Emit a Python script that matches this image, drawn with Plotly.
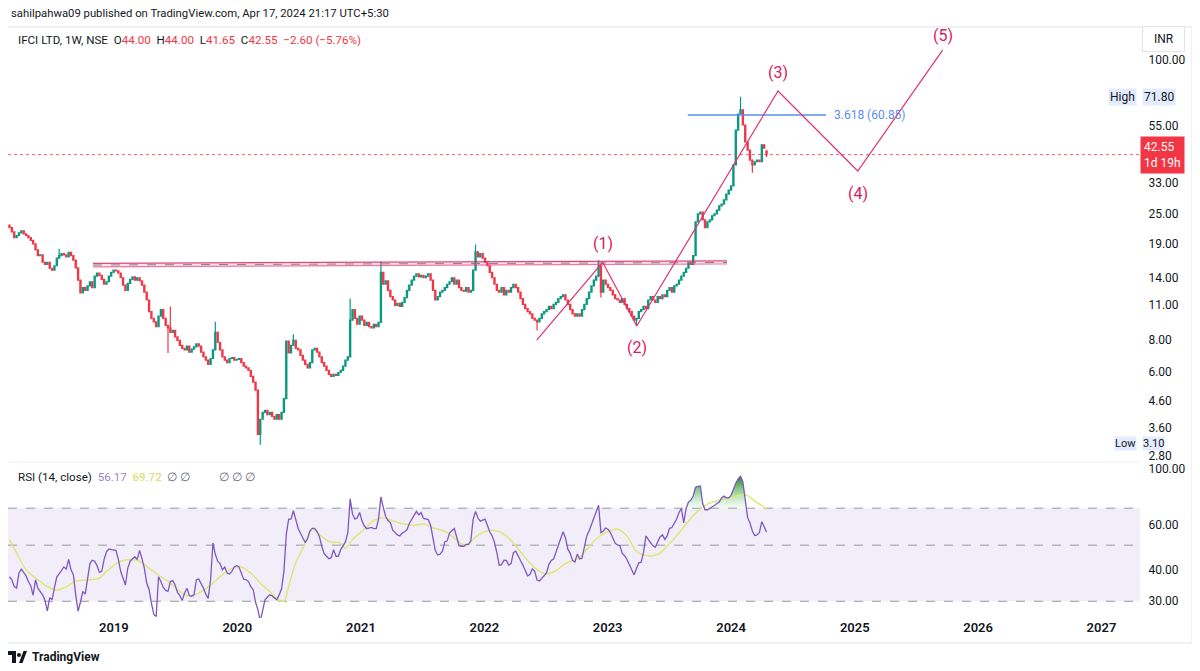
import numpy as np
import pandas as pd
import plotly.graph_objects as go

# IFCI LTD weekly candles (NSE), first bar = week of 2018-02-26, last = week of 2024-04-15
first_week = "2018-02-26"
first_open = 22.5
last_open = 44.00
close = [
    22.0, 21.2, 20.1, 20.5, 21.0, 21.4, 20.8, 20.5, 20.1, 19.6,
    19.0, 18.0, 17.1, 17.2, 16.1, 15.8, 16.1, 15.25, 15.0, 15.6,
    16.7, 17.1, 17.4, 17.2, 16.9, 17.6, 17.1, 16.4, 15.3, 13.7,
    12.2, 12.8, 12.5, 13.0, 13.5, 12.8, 14.2, 14.6, 14.3, 13.8,
    13.2, 13.5, 14.2, 14.7, 15.0, 14.9, 14.6, 14.0, 13.1, 12.5,
    13.3, 13.8, 14.1, 13.7, 14.0, 13.6, 13.1, 12.3, 11.45, 10.3,
    9.7, 9.4, 9.0, 9.9, 10.5, 9.7, 9.1, 8.9, 8.55, 8.7,
    8.2, 7.95, 7.6, 7.4, 7.3, 7.55, 7.15, 7.35, 7.5, 7.7,
    7.55, 7.15, 6.85, 6.65, 6.4, 6.75, 7.3, 8.55, 7.8, 7.3,
    6.85, 6.65, 6.5, 6.75, 6.8, 6.65, 6.7, 6.75, 6.5, 6.3,
    6.2, 6.07, 5.75, 5.45, 5.07, 3.40, 3.9, 4.15, 4.23, 4.07,
    4.15, 4.0, 3.9, 4.07, 3.9, 4.15, 4.7, 7.9, 7.1, 7.6,
    7.95, 7.4, 7.3, 6.95, 6.65, 6.4, 6.2, 6.5, 7.3, 7.4,
    7.15, 6.85, 6.5, 6.3, 6.07, 5.85, 5.75, 5.85, 5.8, 5.95,
    6.07, 6.3, 6.65, 6.85, 9.55, 10.5, 9.7, 9.2, 9.9, 9.55,
    9.1, 9.35, 9.0, 8.9, 9.2, 9.0, 9.35, 14.7, 13.2, 13.6,
    12.5, 11.8, 11.45, 10.9, 11.1, 10.8, 11.2, 11.7, 12.5, 13.1,
    13.7, 14.2, 14.5, 14.1, 14.3, 14.0, 14.2, 14.5, 13.7, 12.5,
    11.45, 11.8, 12.3, 12.5, 12.8, 13.2, 13.5, 14.0, 13.2, 13.7,
    12.8, 12.5, 12.4, 12.8, 12.3, 12.5, 15.0, 17.7, 16.9, 17.4,
    16.7, 16.1, 15.6, 14.7, 14.0, 13.2, 12.5, 12.3, 12.8, 12.0,
    12.5, 12.3, 12.8, 13.2, 12.8, 12.3, 11.6, 11.0, 10.6, 10.3,
    10.1, 9.7, 9.55, 9.4, 9.7, 10.1, 10.3, 10.5, 10.8, 10.6,
    11.0, 11.2, 11.6, 11.8, 12.0, 11.45, 11.0, 10.5, 10.1, 9.9,
    10.1, 9.9, 10.5, 11.0, 11.6, 12.3, 13.0, 13.7, 14.2, 15.6,
    12.3, 13.7, 13.2, 12.8, 12.5, 12.0, 11.6, 11.45, 11.2, 11.6,
    11.0, 10.6, 10.3, 9.9, 9.55, 9.7, 10.3, 10.5, 10.8, 10.6,
    11.45, 11.8, 11.45, 11.2, 11.8, 11.6, 12.0, 11.8, 12.5, 12.8,
    12.3, 13.0, 13.2, 13.7, 14.2, 14.7, 15.25, 16.1, 15.8, 17.1,
    23.2, 24.9, 25.3, 23.6, 22.0, 23.2, 23.6, 24.5, 24.9, 25.8,
    26.8, 27.2, 28.3, 29.8, 30.9, 32.1, 38.8, 53.1, 61.4, 63.7,
    55.6, 47.7, 44.3, 40.5, 38.8, 39.9, 40.5, 39.9, 46.5, 45.15,
    42.55,
]
# weeks with visible wicks beyond the body
wick_high = {21: 18.2, 68: 10.8, 87: 9.4, 120: 8.4, 144: 11.6, 157: 16.2,
             197: 18.9, 249: 16.4, 309: 71.8, 320: 44.0}
wick_low = {67: 7.1, 106: 3.10, 223: 8.7, 250: 11.7, 265: 9.1, 314: 36.1, 320: 41.65}

# RSI (14, close), one value per week
rsi = [
    37.5, 36.5, 34.3, 33.8, 38.8, 40.2, 39.0, 37.8, 35.9, 34.5,
    31.7, 36.5, 33.8, 32.8, 31.8, 30.2, 27.5, 31.0, 30.4, 34.0,
    37.5, 38.5, 39.8, 41.0, 40.2, 43.9, 40.0, 38.2, 31.8, 27.4,
    29.8, 32.8, 32.0, 36.5, 42.3, 43.6, 43.2, 41.5, 39.0, 39.4,
    43.9, 47.1, 48.3, 48.0, 48.0, 47.7, 43.9, 39.4, 37.0, 34.8,
    40.6, 43.2, 44.2, 45.0, 43.9, 47.7, 44.2, 40.6, 35.4, 33.4,
    29.5, 26.6, 26.1, 37.5, 35.9, 34.0, 33.1, 32.8, 35.9, 36.2,
    34.8, 32.5, 31.6, 30.2, 32.3, 33.8, 31.6, 31.4, 31.9, 36.5,
    36.7, 35.4, 33.8, 32.0, 30.8, 36.5, 51.0, 46.0, 43.2, 42.3,
    40.0, 41.0, 38.8, 38.5, 39.4, 41.0, 41.5, 41.0, 38.8, 36.7,
    36.5, 35.9, 34.3, 33.4, 29.8, 27.8, 25.0, 27.8, 30.4, 31.2,
    31.8, 31.5, 31.0, 30.4, 31.8, 33.6, 39.4, 55.2, 63.4, 63.4,
    68.4, 62.4, 58.3, 55.7, 53.0, 51.2, 53.0, 57.0, 58.3, 58.3,
    56.6, 54.0, 49.5, 46.3, 45.2, 44.2, 44.6, 48.0, 45.2, 45.2,
    48.0, 49.5, 51.5, 56.0, 76.2, 66.3, 63.4, 64.2, 67.3, 62.4,
    59.5, 58.1, 58.3, 58.8, 58.1, 58.1, 63.4, 77.6, 70.5, 64.9,
    62.6, 61.4, 57.3, 56.1, 54.9, 54.4, 55.8, 56.5, 57.5, 60.9,
    63.4, 66.1, 67.9, 65.9, 67.2, 63.8, 63.4, 63.1, 59.9, 53.7,
    47.6, 45.7, 46.1, 47.3, 51.5, 52.0, 55.8, 57.0, 58.2, 54.0,
    49.8, 49.5, 49.5, 50.4, 50.4, 52.0, 63.4, 67.9, 64.0, 62.2,
    62.6, 63.4, 59.9, 56.5, 54.4, 51.2, 46.7, 41.7, 41.9, 43.6,
    43.5, 41.7, 42.3, 46.7, 47.3, 45.0, 43.5, 41.7, 39.4, 37.8,
    38.3, 40.3, 39.4, 36.4, 36.1, 36.9, 37.7, 38.8, 42.0, 43.5,
    44.1, 46.7, 49.3, 53.1, 56.5, 53.4, 48.2, 46.4, 43.5, 42.9,
    46.1, 44.1, 44.4, 49.3, 54.4, 56.9, 60.4, 64.2, 68.3, 71.9,
    56.1, 56.9, 58.4, 57.8, 56.1, 53.1, 50.9, 50.1, 49.8, 46.4,
    45.4, 43.9, 41.9, 39.5, 38.2, 40.3, 42.6, 42.8, 46.8, 54.4,
    52.4, 51.1, 49.7, 49.0, 51.6, 53.9, 54.9, 52.7, 54.4, 58.3,
    58.7, 61.2, 63.4, 67.3, 69.8, 61.2, 69.8, 74.1, 75.3, 78.2,
    84.7, 85.4, 85.7, 73.0, 69.0, 69.0, 69.8, 70.4, 71.7, 73.0,
    74.1, 76.9, 78.1, 76.9, 76.9, 78.7, 83.8, 87.8, 91.5, 93.7,
    88.9, 74.7, 64.2, 61.2, 56.9, 54.6, 54.9, 56.1, 61.9, 59.1,
    56.17,
]
# RSI-based moving average, read at selected weeks
ma_week = [0, 3, 7, 12, 16, 20, 24, 28, 34, 38, 41, 47, 52, 55, 59, 64, 68, 72, 76, 80,
           85, 89, 93, 97, 102, 106, 110, 114, 116, 118, 121, 124, 128, 131, 135, 140, 142, 145, 150, 154,
           158, 164, 171, 175, 179, 185, 189, 193, 197, 202, 206, 210, 214, 219, 223, 227, 231, 235, 240, 244,
           248, 252, 257, 261, 265, 269, 274, 278, 282, 286, 291, 295, 299, 303, 307, 311, 316, 320]
ma_val = [52.6, 46.6, 40.0, 36.5, 34.3, 33.2, 34.3, 36.0, 36.5, 37.0, 39.4, 43.2, 43.9, 43.2, 40.6, 37.5, 35.4, 32.8, 31.4, 32.3,
          34.8, 37.5, 40.0, 41.3, 38.8, 35.4, 32.8, 30.2, 30.0, 34.3, 42.6, 48.6, 57.9, 55.1, 51.7, 50.9, 48.6, 52.6, 57.9, 62.6,
          64.0, 61.5, 60.0, 60.6, 58.6, 56.1, 52.4, 49.7, 53.9, 57.0, 57.0, 54.4, 49.7, 43.5, 40.0, 38.5, 39.6, 42.3, 44.1, 48.0,
          52.9, 56.1, 57.8, 54.4, 47.3, 45.5, 45.9, 49.7, 54.4, 60.6, 68.3, 72.6, 74.7, 76.2, 78.0, 79.2, 73.6, 69.72]

# drawings
wave_dates = ["2022-06-05", "2022-12-17", "2023-03-28", "2024-05-19", "2025-01-10", "2025-09-18"]
wave_prices = [7.97, 16.1, 9.05, 75.6, 36.7, 109.4]
wave_labels = ["", "(1)", "(2)", "(3)", "(4)", "(5)"]
wave_shift = [0, 19, -21, 18, -22, 15]
res_dates = ["2018-10-31", "2023-12-20"]
res_top = [15.95, 16.3]
res_mid = [15.7, 16.07]
res_bot = [15.45, 15.85]
fib_dates = ["2023-08-26", "2024-10-08"]
fib_price = 60.85
last_price = 42.55
high_price = 71.80
low_price = 3.10

price_ticks = [100, 55, 33, 25, 19, 14, 11, 8, 6, 4.6, 3.6, 2.8]
rsi_ticks = [100, 60, 40, 30]

# ---------------------------------------------------------------
n = len(close)
base = pd.Timestamp(first_week)
dates = [base + pd.Timedelta(days=7 * i) for i in range(n)]
opens = [first_open] + close[:-1]
opens[-1] = last_open
highs = [max(opens[i], close[i], wick_high.get(i, 0)) for i in range(n)]
lows = [min(opens[i], close[i], wick_low.get(i, 1e9)) for i in range(n)]
ma_dates = [base + pd.Timedelta(days=7 * w) for w in ma_week]

x_start = base - pd.Timedelta(days=4.4)
x_end = base + pd.Timedelta(days=3345)

# page has an 8px body margin, so the figure is drawn 8px in from the page corner
OFF = 8
W, H = 1192, 663
ML, MR, MT, MB = 0, 60, 20, 53
PW, PH = W - ML - MR, H - MT - MB


def xp(px):
    # page pixel -> paper
    return (px - OFF - ML) / PW


def yp(py):
    return (H - MB - (py - OFF)) / PH


UP, DOWN = "#089981", "#F23645"
PINK = "#d81b60"
BLUE = "#5b8def"
PURPLE = "#7E57C2"
MAC = "#dfe67a"
TXT = "#131722"
FONT = "Roboto, 'Open Sans', sans-serif"

fig = go.Figure()

# resistance band
fig.add_trace(go.Scatter(x=res_dates, y=res_bot, mode="lines",
                         line=dict(color="rgba(236,64,122,0.7)", width=1.2), hoverinfo="skip"))
fig.add_trace(go.Scatter(x=res_dates, y=res_top, mode="lines", fill="tonexty",
                         fillcolor="rgba(236,64,122,0.16)",
                         line=dict(color="rgba(216,27,96,0.8)", width=1.2), hoverinfo="skip"))
fig.add_trace(go.Scatter(x=res_dates, y=res_mid, mode="lines",
                         line=dict(color="#7b7f8c", width=1, dash="dash"), hoverinfo="skip"))

# last price line
fig.add_trace(go.Scatter(x=[x_start, x_end], y=[last_price, last_price], mode="lines",
                         line=dict(color="rgba(242,54,69,0.8)", width=1, dash="dot"), hoverinfo="skip"))

fig.add_trace(go.Candlestick(
    x=dates, open=opens, high=highs, low=lows, close=close,
    increasing=dict(line=dict(color=UP, width=1.2), fillcolor=UP),
    decreasing=dict(line=dict(color=DOWN, width=1.2), fillcolor=DOWN),
    whiskerwidth=0, hoverinfo="skip",
))

# fib extension level
fig.add_trace(go.Scatter(x=fib_dates, y=[fib_price, fib_price], mode="lines",
                         line=dict(color=BLUE, width=1.3), hoverinfo="skip"))

# elliott wave count
fig.add_trace(go.Scatter(x=wave_dates, y=wave_prices, mode="lines",
                         line=dict(color="#e0306f", width=1.2), hoverinfo="skip"))

# ---- RSI pane
fig.add_trace(go.Scatter(x=[x_start, x_end], y=[30, 30], mode="lines", line=dict(width=0),
                         yaxis="y2", hoverinfo="skip"))
fig.add_trace(go.Scatter(x=[x_start, x_end], y=[70, 70], mode="lines", line=dict(width=0),
                         fill="tonexty", fillcolor="rgba(126,87,194,0.1)", yaxis="y2", hoverinfo="skip"))
for lvl in [70, 50, 30]:
    fig.add_trace(go.Scatter(x=[x_start, x_end], y=[lvl, lvl], mode="lines",
                             line=dict(color="#9598a1", width=1, dash="dash"), yaxis="y2", hoverinfo="skip"))

fig.add_trace(go.Scatter(x=dates, y=[70] * n, mode="lines", line=dict(width=0),
                         yaxis="y2", hoverinfo="skip"))
fig.add_trace(go.Scatter(x=dates, y=[max(v, 70) for v in rsi], mode="lines", line=dict(width=0),
                         fill="tonexty",
                         fillgradient=dict(type="vertical",
                                           colorscale=[[0, "rgba(200,235,200,0.2)"],
                                                       [0.5, "rgba(120,200,120,0.75)"],
                                                       [1, "rgba(46,125,50,1)"]]),
                         yaxis="y2", hoverinfo="skip"))

fig.add_trace(go.Scatter(x=ma_dates, y=ma_val, mode="lines", line=dict(color=MAC, width=1.5, shape="spline"),
                         yaxis="y2", hoverinfo="skip"))
fig.add_trace(go.Scatter(x=dates, y=rsi, mode="lines", line=dict(color=PURPLE, width=1.3),
                         yaxis="y2", hoverinfo="skip"))

ann = []
# wave labels
for d, p, lab, s in zip(wave_dates, wave_prices, wave_labels, wave_shift):
    if lab:
        ann.append(dict(x=d, y=np.log10(p), xref="x", yref="y", text=lab, showarrow=False,
                        yshift=s, font=dict(size=16, color=PINK, family=FONT)))
ann.append(dict(x=fib_dates[1], y=np.log10(fib_price), xref="x", yref="y", text="3.618 (60.85)",
                showarrow=False, xanchor="left", xshift=6, font=dict(size=12, color=BLUE, family=FONT)))

# header
ann.append(dict(x=xp(9), y=yp(14), xref="paper", yref="paper", xanchor="left", yanchor="middle",
                showarrow=False, text="sahilpahwa09 published on TradingView.com, Apr 17, 2024 21:17 UTC+5:30",
                font=dict(size=11.3, color=TXT, family=FONT)))
red = "<span style='color:#F23645'>%s</span>"
sym = ("IFCI LTD, 1W, NSE\u00a0\u00a0O" + red % "44.00" + "\u00a0\u00a0H" + red % "44.00" +
       "\u00a0\u00a0L" + red % "41.65" + "\u00a0\u00a0C" + red % "42.55" + "\u00a0\u00a0" + red % "\u22122.60 (\u22125.76%)")
ann.append(dict(x=xp(16), y=yp(40), xref="paper", yref="paper", xanchor="left", yanchor="middle",
                showarrow=False, text=sym, font=dict(size=11.6, color=TXT, family=FONT)))
rsi_hdr = ("RSI (14, close)\u00a0\u00a0<span style='color:#9c7fd6'>56.17</span>\u00a0\u00a0"
           "<span style='color:#d6dc5c'>69.72</span>\u00a0\u00a0<span style='color:#6a6d78'>\u2205 \u2205"
           "\u00a0\u00a0\u00a0\u00a0\u00a0\u00a0\u00a0\u00a0\u00a0\u00a0\u2205 \u2205 \u2205</span>")
ann.append(dict(x=xp(16), y=yp(477), xref="paper", yref="paper", xanchor="left", yanchor="middle",
                showarrow=False, text=rsi_hdr, font=dict(size=11.6, color=TXT, family=FONT)))

# price scale boxes
ann.append(dict(x=xp(1163.5), y=yp(39.5), xref="paper", yref="paper", xanchor="center", yanchor="middle",
                showarrow=False, text="\u00a0\u00a0INR\u00a0\u00a0",
                bgcolor="white", bordercolor="#e0e3eb", borderwidth=1, borderpad=5,
                font=dict(size=12, color=TXT, family=FONT)))
lb = "rgba(41,98,255,0.13)"
ann.append(dict(x=xp(1142), y=np.log10(high_price), xref="paper", yref="y", xanchor="left", showarrow=False,
                text="71.80", bgcolor=lb, borderpad=1, font=dict(size=12, color=TXT, family=FONT)))
ann.append(dict(x=xp(1137), y=np.log10(high_price), xref="paper", yref="y", xanchor="right", showarrow=False,
                text="High", bgcolor=lb, borderpad=1, font=dict(size=12, color=TXT, family=FONT)))
ann.append(dict(x=xp(1142), y=np.log10(low_price), xref="paper", yref="y", xanchor="left", showarrow=False,
                text="3.10", bgcolor=lb, borderpad=0, yshift=1, font=dict(size=11, color=TXT, family=FONT)))
ann.append(dict(x=xp(1137), y=np.log10(low_price), xref="paper", yref="y", xanchor="right", showarrow=False,
                text="Low", bgcolor=lb, borderpad=0, yshift=1, font=dict(size=11, color=TXT, family=FONT)))
ann.append(dict(x=xp(1140), y=np.log10(last_price), xref="paper", yref="y", xanchor="left", showarrow=False,
                text="42.55<br>1d 19h", bgcolor="#F23645", borderpad=3, align="left",
                font=dict(size=12, color="white", family=FONT)))

# footer logo
ann.append(dict(x=xp(30), y=yp(657), xref="paper", yref="paper", xanchor="left", yanchor="middle",
                showarrow=False, text="<b>TradingView</b>", font=dict(size=12, color=TXT, family=FONT)))

shapes = [
    dict(type="line", xref="paper", yref="paper", x0=xp(0), x1=xp(1192), y0=yp(27), y1=yp(27),
         line=dict(color="#e0e3eb", width=1)),
    dict(type="line", xref="paper", yref="paper", x0=xp(0), x1=xp(1192), y0=yp(643), y1=yp(643),
         line=dict(color="#e0e3eb", width=1)),
    dict(type="line", xref="paper", yref="paper", x0=xp(1192), x1=xp(1192), y0=yp(27), y1=yp(643),
         line=dict(color="#e0e3eb", width=1)),
    dict(type="line", xref="paper", yref="paper", x0=xp(0), x1=xp(1140), y0=yp(462), y1=yp(462),
         line=dict(color="#eef0f3", width=1)),
    # TradingView mark
    dict(type="rect", xref="paper", yref="paper", x0=xp(8), x1=xp(16), y0=yp(655), y1=yp(651),
         fillcolor=TXT, line=dict(width=0)),
    dict(type="rect", xref="paper", yref="paper", x0=xp(12), x1=xp(16), y0=yp(663), y1=yp(651),
         fillcolor=TXT, line=dict(width=0)),
    dict(type="circle", xref="paper", yref="paper", x0=xp(17), x1=xp(21), y0=yp(657), y1=yp(653),
         fillcolor=TXT, line=dict(width=0)),
    dict(type="path", xref="paper", yref="paper",
         path="M %f %f L %f %f L %f %f L %f %f Z" % (xp(19), yp(663), xp(23.5), yp(651), xp(27), yp(651), xp(22.5), yp(663)),
         fillcolor=TXT, line=dict(width=0)),
]

fig.update_layout(
    width=W, height=H,
    margin=dict(l=ML, r=MR, t=MT, b=MB),
    paper_bgcolor="white", plot_bgcolor="white",
    showlegend=False,
    font=dict(family=FONT, color=TXT, size=12),
    xaxis=dict(type="date", range=[x_start, x_end], anchor="y2", showgrid=False, zeroline=False,
               showline=False, ticks="", tick0="2019-01-01", dtick="M12", tickformat="%Y",
               tickfont=dict(size=13, color=TXT, weight=600), rangeslider=dict(visible=False),
               fixedrange=True),
    yaxis=dict(type="log", domain=[yp(462), 1], range=[0.4235, 2.1255], side="right",
               tickmode="array", tickvals=price_ticks, ticktext=["%.2f" % v for v in price_ticks],
               showgrid=False, zeroline=False, ticks="outside", ticklen=5, tickcolor="rgba(0,0,0,0)",
               tickfont=dict(size=12, color=TXT)),
    yaxis2=dict(type="log", domain=[0, yp(462)], range=[1.411, 2.0277], side="right",
                tickmode="array", tickvals=rsi_ticks, ticktext=["%.2f" % v for v in rsi_ticks],
                showgrid=False, zeroline=False, ticks="outside", ticklen=5, tickcolor="rgba(0,0,0,0)",
                tickfont=dict(size=12, color=TXT)),
    annotations=ann,
    shapes=shapes,
)

fig.write_html("out.html")
